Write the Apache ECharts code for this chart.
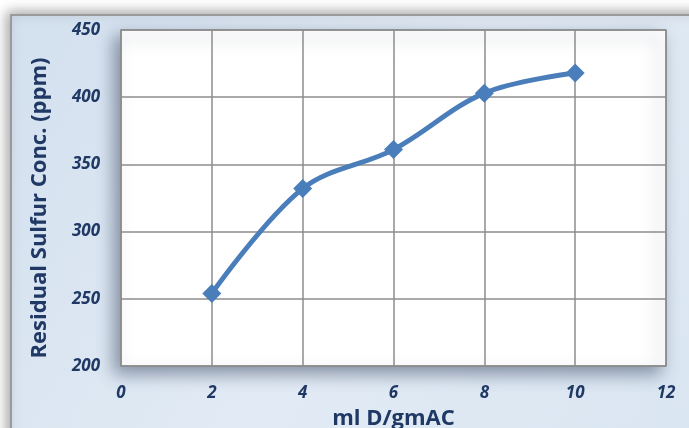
<!DOCTYPE html>
<html>
<head>
<meta charset="utf-8">
<script src="https://cdn.jsdelivr.net/npm/echarts@6/dist/echarts.min.js"></script>
<style>
  html, body { margin: 0; padding: 0; background: #ffffff; }
  #chart { width: 689px; height: 428px; }
</style>
</head>
<body>
<div id="chart"></div>
<script>
// data
const doseMl = [2, 4, 6, 8, 10]
const sulfurPpm = [254, 332, 361, 403, 418]
const xTicks = [0, 2, 4, 6, 8, 10, 12]
const yTicks = [200, 250, 300, 350, 400, 450]

const textColor = '#1f3864'
const lineColor = '#4a7ebb'
const font = 'Open Sans'

const chart = echarts.init(document.getElementById('chart'))

chart.setOption({
  animation: false,
  backgroundColor: '#ffffff',
  graphic: [
    {
      // outer chart frame, light blue
      type: 'rect',
      left: 10, top: 14, z: -10,
      shape: { width: 700, height: 430 },
      style: {
        fill: {
          type: 'linear', x: 0, y: 0, x2: 1, y2: 1,
          colorStops: [
            { offset: 0, color: '#d3e0ee' },
            { offset: 0.5, color: '#e2ebf5' },
            { offset: 1, color: '#d9e5f1' }
          ]
        },
        stroke: '#9a9a9a',
        lineWidth: 2,
        shadowColor: 'rgba(0,0,0,0.35)',
        shadowBlur: 12,
        shadowOffsetX: -3,
        shadowOffsetY: -2
      }
    }
  ],
  grid: {
    left: 121, top: 30, right: 23, bottom: 62,
    outerBoundsMode: 'none',
    show: true,
    backgroundColor: '#ffffff',
    borderColor: '#8c8c8c',
    borderWidth: 1.5,
    shadowColor: 'rgba(70,85,110,0.6)',
    shadowBlur: 16,
    shadowOffsetX: -6,
    shadowOffsetY: 7
  },
  xAxis: {
    type: 'value',
    min: 0, max: 12, interval: 2,
    name: 'ml D/gmAC',
    nameLocation: 'middle',
    nameGap: 42,
    nameTextStyle: { color: textColor, fontSize: 22, fontWeight: 'bold', fontFamily: font },
    axisLine: { show: false },
    axisTick: { show: false },
    axisLabel: {
      margin: 19,
      color: textColor, fontSize: 17, fontWeight: 'bold', fontStyle: 'italic', fontFamily: font,
      formatter: v => xTicks.includes(v) ? String(v) : ''
    },
    splitLine: { show: true, lineStyle: { color: '#8c8c8c', width: 1.5 } }
  },
  yAxis: {
    type: 'value',
    min: 200, max: 450, interval: 50,
    name: 'Residual Sulfur Conc. (ppm)',
    nameLocation: 'middle',
    nameGap: 70,
    nameTextStyle: {
      color: textColor, fontSize: 22, fontWeight: 'bold', fontFamily: font,
      padding: [0, 20, 0, 0]
    },
    axisLine: { show: false },
    axisTick: { show: false },
    axisLabel: {
      margin: 21,
      color: textColor, fontSize: 17, fontWeight: 'bold', fontStyle: 'italic', fontFamily: font,
      formatter: v => yTicks.includes(v) ? String(v) : ''
    },
    splitLine: { show: true, lineStyle: { color: '#8c8c8c', width: 1.5 } }
  },
  series: [
    {
      type: 'line',
      smooth: 0.35,
      data: doseMl.map((x, i) => [x, sulfurPpm[i]]),
      symbol: 'diamond',
      symbolSize: 19,
      lineStyle: { color: lineColor, width: 5 },
      itemStyle: { color: lineColor }
    }
  ]
})
</script>
</body>
</html>
